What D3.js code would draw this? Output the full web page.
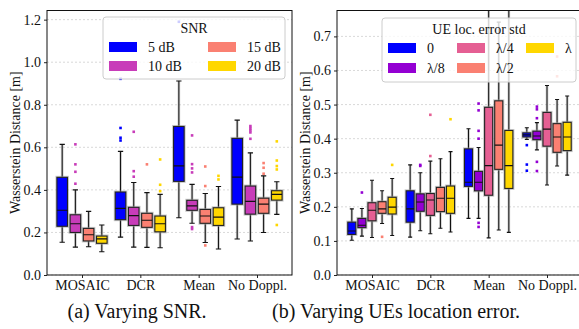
<!DOCTYPE html>
<html><head><meta charset="utf-8">
<script src="https://cdn.jsdelivr.net/npm/d3@7"></script>
<style>
body{margin:0;background:#fff;}
svg{display:block;font-family:"Liberation Serif","Times New Roman",serif;}
</style></head>
<body><svg id="c" width="579" height="329"></svg>
<script>
// ---------- DATA ----------
const categories = ["MOSAIC", "DCR", "Mean", "No Doppl."];

// Panel (a): SNR. Each entry: [whiskerLow, Q1, median, Q3, whiskerHigh] per category
const snrSeries = ["5 dB", "10 dB", "15 dB", "20 dB"];
const snrColors = ["#0000ff", "#c83cb9", "#fa8072", "#ffd700"];
const snr5 = [[0.154,0.229,0.304,0.459,0.614],[0.178,0.260,0.313,0.390,0.581],[0.269,0.440,0.513,0.698,0.912],[0.169,0.333,0.460,0.642,0.728]];
const snr10 = [[0.131,0.200,0.241,0.283,0.400],[0.131,0.233,0.279,0.318,0.435],[0.243,0.304,0.325,0.351,0.426],[0.160,0.286,0.346,0.418,0.574]];
const snr15 = [[0.133,0.160,0.189,0.219,0.299],[0.130,0.224,0.257,0.290,0.387],[0.153,0.243,0.277,0.308,0.383],[0.200,0.290,0.333,0.361,0.466]];
const snr20 = [[0.109,0.149,0.170,0.183,0.235],[0.128,0.203,0.241,0.277,0.379],[0.122,0.233,0.272,0.316,0.416],[0.285,0.352,0.379,0.396,0.438]];
const snr5Out = [[],[0.691,0.645,0.632,0.922],[1.19],[]];
const snr10Out = [[0.614,0.520,0.485,0.429],[0.673,0.488,0.462],[0.656,0.521,0.501,0.482,0.225,0.216],[0.70,0.69,0.68,0.67,0.64]];
const snr15Out = [[],[0.520],[0.510,0.418,0.139],[0.526,0.504,0.476]];
const snr20Out = [[],[0.543,0.424,0.394],[0.466,0.449],[0.628,0.538,0.512,0.496,0.235]];
const snrTicks = [0.0, 0.2, 0.4, 0.6, 0.8, 1.0, 1.2];

// Panel (b): UE location error std
const locSeries = ["0", "λ/8", "λ/4", "λ/2", "λ"];
const locColors = ["#0000ff", "#9400d3", "#e55f93", "#fa8072", "#ffd700"];
const loc0 = [[0.102,0.119,0.129,0.155,0.194],[0.111,0.155,0.194,0.247,0.323],[0.166,0.260,0.272,0.370,0.429],[0.398,0.405,0.411,0.417,0.432]];
const loc8 = [[0.114,0.139,0.146,0.166,0.195],[0.130,0.187,0.214,0.238,0.300],[0.166,0.247,0.272,0.304,0.374],[0.367,0.397,0.408,0.422,0.447]];
const loc4 = [[0.110,0.159,0.190,0.212,0.278],[0.121,0.175,0.220,0.239,0.334],[0.109,0.234,0.321,0.492,0.800],[0.264,0.378,0.428,0.477,0.556]];
const loc2 = [[0.151,0.181,0.194,0.215,0.247],[0.137,0.186,0.225,0.257,0.341],[0.132,0.310,0.381,0.511,0.742],[0.320,0.360,0.405,0.444,0.515]];
const loc1 = [[0.116,0.179,0.199,0.228,0.283],[0.126,0.181,0.225,0.261,0.362],[0.125,0.254,0.321,0.424,0.800],[0.293,0.365,0.405,0.448,0.525]];
const loc0Out = [[],[],[],[0.381,0.324,0.306]];
const loc8Out = [[0.242],[0.323,0.320],[0.503,0.483,0.423,0.400,0.153,0.141],[0.494,0.486,0.460,0.332,0.305]];
const loc4Out = [[],[0.349,0.470],[],[]];
const loc2Out = [[0.112],[],[],[0.641,0.583]];
const loc1Out = [[0.323],[0.457],[],[]];
const locTicks = [0.0, 0.1, 0.2, 0.3, 0.4, 0.5, 0.6, 0.7];

const yLabel = "Wasserstein Distance [m]";
const captions = ["(a) Varying SNR.", "(b) Varying UEs location error."];

// ---------- DRAW ----------
const svg = d3.select("#c");

function panel(opts) {
  const {x0, x1, y0, y1, yMax, ticks, series, colors, stats, outs, boxFrac, legend, id} = opts;
  const g = svg.append("g");
  const x = d3.scalePoint().domain(categories).range([x0, x1]).padding(0.6);
  const y = d3.scaleLinear().domain([0, yMax]).range([y1, y0]);
  const inner = d3.scaleBand().domain(series).range([-x.step()*boxFrac/2, x.step()*boxFrac/2]).paddingInner(0.2);
  const bw = inner.bandwidth();

  g.append("clipPath").attr("id", id).append("rect")
    .attr("x", x0).attr("y", y0).attr("width", x1 - x0).attr("height", y1 - y0);

  // grid
  g.append("g").selectAll("line").data(ticks).join("line")
    .attr("x1", x0).attr("x2", x1).attr("y1", d => y(d)).attr("y2", d => y(d))
    .attr("stroke", "#cfcfcf").attr("stroke-width", 0.8).attr("stroke-dasharray", "2,2");

  const plot = g.append("g").attr("clip-path", `url(#${id})`);
  series.forEach((s, si) => {
    const col = colors[si];
    stats[si].forEach((st, ci) => {
      const cx = x(categories[ci]) + inner(s) + bw/2;
      const [lo, q1, med, q3, hi] = st;
      const gg = plot.append("g");
      // whiskers with soft halo
      [[lo, q1], [q3, hi]].forEach(([a, b]) => {
        gg.append("line").attr("x1", cx).attr("x2", cx).attr("y1", y(a)).attr("y2", y(b))
          .attr("stroke", "#9a9a9a").attr("stroke-width", 2.6).attr("stroke-opacity", 0.55);
        gg.append("line").attr("x1", cx).attr("x2", cx).attr("y1", y(a)).attr("y2", y(b))
          .attr("stroke", "#111").attr("stroke-width", 1);
      });
      [lo, hi].forEach(v => {
        gg.append("line").attr("x1", cx - bw/4).attr("x2", cx + bw/4).attr("y1", y(v)).attr("y2", y(v))
          .attr("stroke", "#111").attr("stroke-width", 1.1);
      });
      gg.append("rect").attr("x", cx - bw/2).attr("y", y(q3)).attr("width", bw).attr("height", y(q1) - y(q3))
        .attr("fill", "none").attr("stroke", "#9a9a9a").attr("stroke-width", 3).attr("stroke-opacity", 0.55);
      gg.append("rect").attr("x", cx - bw/2).attr("y", y(q3)).attr("width", bw).attr("height", y(q1) - y(q3))
        .attr("fill", col).attr("stroke", "#222").attr("stroke-width", 1.1);
      gg.append("line").attr("x1", cx - bw/2).attr("x2", cx + bw/2).attr("y1", y(med)).attr("y2", y(med))
        .attr("stroke", "#111").attr("stroke-width", 1.1);
      gg.selectAll("rect.o").data(outs[si][ci]).join("rect").attr("class", "o")
        .attr("x", cx - 1.3).attr("y", d => y(d) - 1.3).attr("width", 2.6).attr("height", 2.6)
        .attr("fill", col);
    });
  });

  // axes
  const ya = g.append("g").attr("transform", `translate(${x0},0)`)
    .call(d3.axisLeft(y).tickValues(ticks).tickFormat(d3.format(".1f")).tickSize(3).tickPadding(3));
  ya.select(".domain").remove();
  ya.selectAll("text").attr("font-size", 14).attr("font-family", "Liberation Serif").attr("fill", "#111");
  ya.selectAll("line").attr("stroke", "#222");
  const xa = g.append("g").attr("transform", `translate(0,${y1})`)
    .call(d3.axisBottom(x).tickSize(3).tickPadding(2));
  xa.select(".domain").remove();
  xa.selectAll("text").attr("font-size", 14).attr("font-family", "Liberation Serif").attr("fill", "#111");
  xa.selectAll("line").attr("stroke", "#222");

  g.append("text").attr("transform", `translate(${x0 - 32},${(y0 + y1)/2}) rotate(-90)`)
    .attr("text-anchor", "middle").attr("dy", "0.35em").attr("font-size", 14).attr("fill", "#111").text(yLabel);

  // legend
  const L = legend;
  const lg = g.append("g");
  lg.append("rect").attr("x", L.x).attr("y", L.y).attr("width", L.w).attr("height", L.h)
    .attr("rx", 3).attr("fill", "#fff").attr("fill-opacity", 0.8).attr("stroke", "#cccccc").attr("stroke-width", 1);
  lg.append("text").attr("x", L.x + L.w/2).attr("y", L.y + 11).attr("text-anchor", "middle").attr("dy", "0.35em")
    .attr("font-size", 14).attr("fill", "#111").text(L.title);
  series.forEach((s, si) => {
    const col = Math.floor(si / 2), row = si % 2;
    const px = L.x + 6 + col * L.colW, py = L.y + 25 + row * L.rowH;
    lg.append("rect").attr("x", px).attr("y", py).attr("width", 28).attr("height", 10).attr("fill", colors[si]);
    lg.append("text").attr("x", px + L.textOff).attr("y", py + 5).attr("dy", "0.35em")
      .attr("font-size", 14).attr("fill", "#111").text(s);
  });

  // frame
  g.append("rect").attr("x", x0).attr("y", y0).attr("width", x1 - x0).attr("height", y1 - y0)
    .attr("fill", "none").attr("stroke", "#111").attr("stroke-width", 1);
}

panel({id: "clipA", x0: 47, x1: 292, y0: 10.5, y1: 275, yMax: 1.243, ticks: snrTicks,
  series: snrSeries, colors: snrColors, stats: [snr5, snr10, snr15, snr20],
  outs: [snr5Out, snr10Out, snr15Out, snr20Out], boxFrac: 0.86,
  legend: {x: 103, y: 17, w: 182, h: 62, title: "SNR", colW: 99, rowH: 19, textOff: 39}});

panel({id: "clipB", x0: 337, x1: 582, y0: 10.5, y1: 275, yMax: 0.776, ticks: locTicks,
  series: locSeries, colors: locColors, stats: [loc0, loc8, loc4, loc2, loc1],
  outs: [loc0Out, loc8Out, loc4Out, loc2Out, loc1Out], boxFrac: 0.83,
  legend: {x: 382, y: 18, w: 194, h: 64, title: "UE loc. error std", colW: 69, rowH: 20, textOff: 39}});

svg.append("g").selectAll("text").data(captions).join("text")
  .attr("x", (d, i) => [137, 396][i]).attr("y", 318).attr("text-anchor", "middle")
  .attr("font-size", 20).attr("fill", "#111").text(d => d);
</script></body></html>
